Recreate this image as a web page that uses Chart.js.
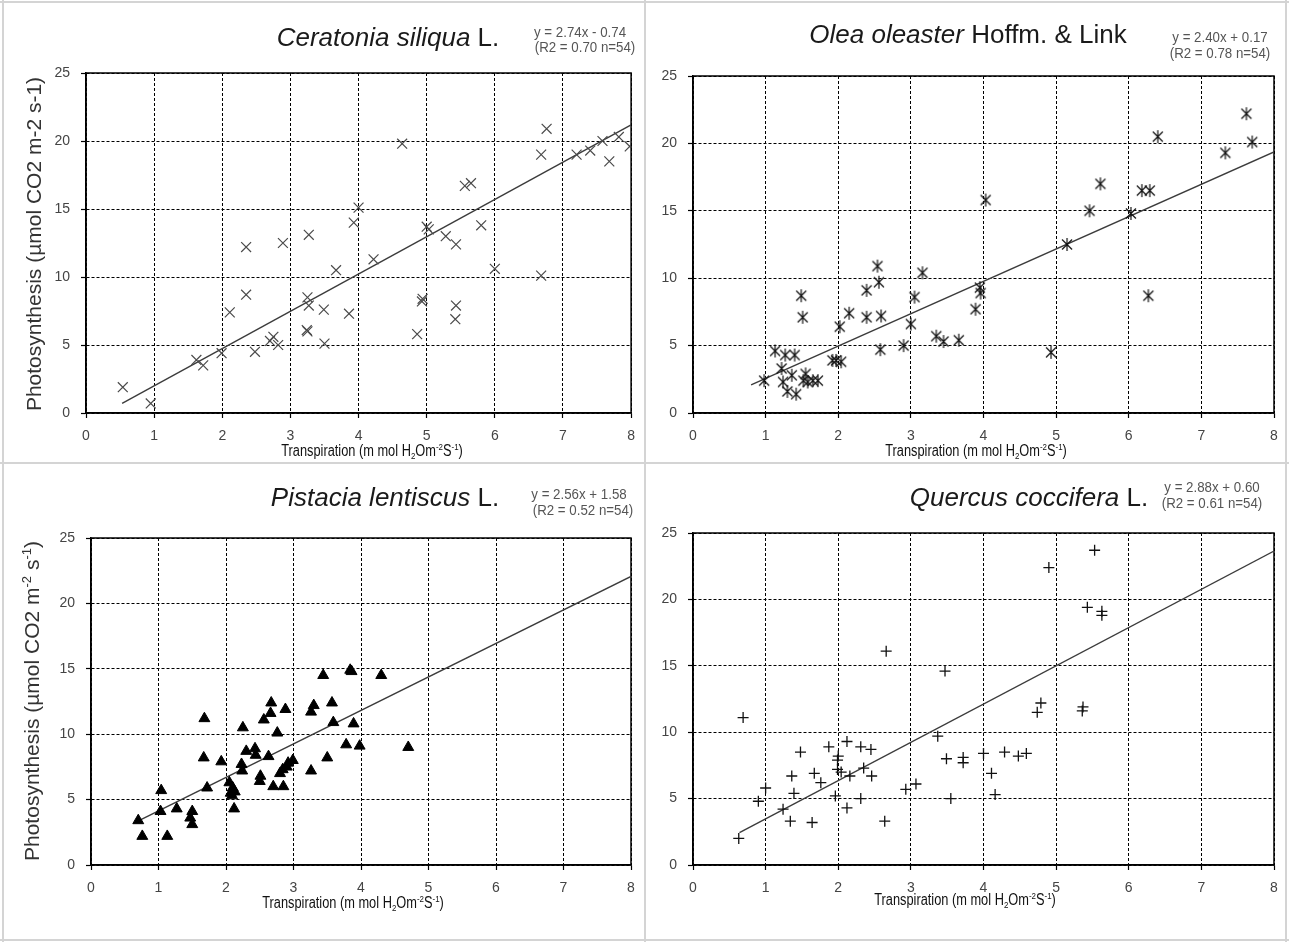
<!DOCTYPE html>
<html><head><meta charset="utf-8">
<script src="https://cdn.jsdelivr.net/npm/chart.js@4.4.1/dist/chart.umd.min.js"></script>
<style>
html,body{margin:0;padding:0;background:#fff;}
#fig{position:relative;width:1289px;height:942px;overflow:hidden;background:#fff;}
.panel{position:absolute;}
.panel canvas{display:block;}
.ln{position:absolute;background:#d4d4d4;}
</style></head><body>
<div id="fig">
  <div class="panel" style="left:0;top:0;width:645px;height:463px"><canvas id="c1" width="645" height="463"></canvas></div>
  <div class="panel" style="left:645px;top:0;width:644px;height:463px"><canvas id="c2" width="644" height="463"></canvas></div>
  <div class="panel" style="left:0;top:463px;width:645px;height:479px"><canvas id="c3" width="645" height="479"></canvas></div>
  <div class="panel" style="left:645px;top:463px;width:644px;height:479px"><canvas id="c4" width="644" height="479"></canvas></div>
  <div class="ln" style="left:644px;top:0;width:2px;height:942px"></div>
  <div class="ln" style="left:0;top:462px;width:1289px;height:2px"></div>
  <div class="ln" style="left:0;top:1px;width:1289px;height:2px"></div>
  <div class="ln" style="left:2px;top:0;width:2px;height:942px"></div>
  <div class="ln" style="left:1285px;top:0;width:2px;height:942px"></div>
  <div class="ln" style="left:0;top:939px;width:1289px;height:2px"></div>
</div>
<script>
// ---------------- DATA ----------------
const xTickValues = [0, 1, 2, 3, 4, 5, 6, 7, 8];
const yTickValues = [0, 5, 10, 15, 20, 25];

const ceratoniaX = [0.54,0.95,1.62,1.72,1.99,2.11,2.35,2.35,2.48,2.70,2.75,2.82,2.89,3.27,3.25,3.27,3.24,3.25,3.49,3.50,3.67,3.86,3.93,4.00,4.22,4.64,4.86,4.94,4.93,5.00,5.03,5.28,5.43,5.43,5.42,5.56,5.65,5.80,6.00,6.68,6.68,6.76,7.20,7.40,7.58,7.68,7.82,7.98];
const ceratoniaY = [1.9,0.7,3.9,3.5,4.4,7.4,12.2,8.7,4.5,5.3,5.6,5.0,12.5,13.1,8.5,7.9,6.1,6.0,7.6,5.1,10.5,7.3,14.0,15.1,11.3,19.8,5.8,8.4,8.2,13.7,13.5,13.0,12.4,7.9,6.9,16.7,16.9,13.8,10.6,10.1,19.0,20.9,19.0,19.3,20.0,18.5,20.3,19.6];
const ceratoniaTrendX = [0.53, 8];
const ceratoniaTrendY = [0.71, 21.18];

const oleaX = [0.98,1.13,1.22,1.24,1.27,1.40,1.30,1.36,1.42,1.55,1.52,1.58,1.65,1.72,1.49,1.51,1.92,1.97,2.04,2.02,2.15,2.39,2.39,2.54,2.56,2.59,2.58,2.90,3.00,3.05,3.16,3.35,3.45,3.66,3.89,3.95,3.96,4.03,4.93,5.15,5.46,5.61,6.03,6.18,6.29,6.27,6.40,7.33,7.62,7.70];
const oleaY = [2.4,4.6,3.3,2.3,4.3,4.3,1.6,2.8,1.4,2.9,2.4,2.3,2.4,2.4,8.7,7.1,3.9,3.9,3.8,6.4,7.4,9.1,7.1,10.9,9.7,7.2,4.7,5.0,6.6,8.6,10.4,5.7,5.3,5.4,7.7,9.3,8.9,15.8,4.5,12.5,15.0,17.0,14.8,16.5,16.5,8.7,20.5,19.3,22.2,20.1];
const oleaTrendX = [0.8, 8];
const oleaTrendY = [2.09, 19.37];

const pistaciaX = [0.70,0.76,1.04,1.03,1.13,1.27,1.50,1.47,1.50,1.68,1.67,1.72,1.93,2.05,2.07,2.10,2.09,2.13,2.12,2.25,2.23,2.24,2.30,2.43,2.44,2.51,2.50,2.56,2.66,2.67,2.63,2.70,2.76,2.80,2.85,2.88,2.84,2.90,2.92,2.99,3.26,3.26,3.30,3.44,3.50,3.57,3.59,3.78,3.84,3.86,3.89,3.98,4.30,4.70];
const pistaciaY = [3.4,2.2,5.7,4.1,2.2,4.3,4.1,3.6,3.1,11.2,8.2,5.9,7.9,6.3,5.5,5.9,5.3,5.6,4.3,10.5,7.7,7.2,8.7,8.9,8.4,6.8,6.4,11.1,11.6,12.4,8.3,6.0,10.1,7.0,6.0,11.9,7.3,7.5,7.8,8.0,7.2,11.7,12.2,14.5,8.2,12.4,10.9,9.2,14.9,14.8,10.8,9.1,14.5,9.0];
const pistaciaTrendX = [0.68, 8];
const pistaciaTrendY = [3.32, 22.06];

const quercusX = [0.63,0.69,0.90,1.00,1.24,1.34,1.36,1.39,1.48,1.64,1.67,1.76,1.87,1.96,1.99,2.00,1.99,2.04,2.12,2.12,2.16,2.31,2.35,2.31,2.45,2.46,2.66,2.64,2.93,3.07,3.37,3.47,3.49,3.55,3.72,3.72,4.00,4.11,4.16,4.29,4.48,4.59,4.74,4.79,4.90,5.36,5.37,5.43,5.53,5.63,5.63];
const quercusY = [2.0,11.1,4.8,5.8,4.2,3.3,6.7,5.4,8.5,3.2,6.9,6.2,8.9,5.2,7.9,8.2,7.2,7.0,9.3,4.3,6.7,8.9,7.3,5.0,8.7,6.7,16.1,3.3,5.7,6.1,9.7,14.6,8.0,5.0,8.1,7.7,8.4,6.9,5.3,8.5,8.2,8.4,11.5,12.2,22.4,11.6,11.9,19.4,23.7,19.1,18.8];
const quercusTrendX = [0.64, 8];
const quercusTrendY = [2.44, 23.64];

const speciesItalic = ['Ceratonia siliqua', 'Olea oleaster', 'Pistacia lentiscus', 'Quercus coccifera'];
const speciesAuthor = [' L.', ' Hoffm. & Link', ' L.', ' L.'];
const equationLines = ['y = 2.74x - 0.74', 'y = 2.40x + 0.17', 'y = 2.56x + 1.58', 'y = 2.88x + 0.60'];
const statsLines = ['(R2 = 0.70 n=54)', '(R2 = 0.78 n=54)', '(R2 = 0.52 n=54)', '(R2 = 0.61 n=54)'];

// ---------------- STYLE / LAYOUT ----------------
const SANS = '"Liberation Sans", Arial, Helvetica, sans-serif';

const zip = (xs, ys) => xs.map((x, i) => ({x, y: ys[i]}));

function asteriskMarker() {
  const c = document.createElement('canvas');
  c.width = 14; c.height = 15;
  const g = c.getContext('2d');
  g.strokeStyle = '#111'; g.lineWidth = 1.2;
  g.beginPath();
  g.moveTo(2, 2.5); g.lineTo(12, 12.5);
  g.moveTo(12, 2.5); g.lineTo(2, 12.5);
  g.moveTo(7, 1); g.lineTo(7, 14);
  g.stroke();
  return c;
}

// draws a run of text segments (normal / italic / sub / sup), optionally condensed horizontally
function drawRich(ctx, segs, x, y, size, family, color, align, hscale) {
  const h = hscale || 1;
  const fontOf = (k) => {
    const sz = (k === 'sub' || k === 'sup') ? size * 0.62 : size;
    return (k === 'i' ? 'italic ' : '') + sz + 'px ' + family;
  };
  let total = 0;
  const widths = segs.map(([t, k]) => { ctx.font = fontOf(k); const w = ctx.measureText(t).width; total += w; return w; });
  ctx.save();
  ctx.translate(x, y);
  ctx.scale(h, 1);
  let cx = align === 'center' ? -total / 2 : (align === 'right' ? -total : 0);
  ctx.fillStyle = color;
  ctx.textAlign = 'left';
  ctx.textBaseline = 'alphabetic';
  segs.forEach(([t, k], i) => {
    ctx.font = fontOf(k);
    let dy = size * 0.36;
    if (k === 'sub') dy += size * 0.22;
    if (k === 'sup') dy -= size * 0.38;
    ctx.fillText(t, cx, dy);
    cx += widths[i];
  });
  ctx.restore();
}

const xTitleSegs = [['Transpiration (m mol H', 'n'], ['2', 'sub'], ['Om', 'n'], ['-2', 'sup'], ['S', 'n'], ['-1', 'sup'], [')', 'n']];
const yTitleTop = [['Photosynthesis (\u00b5mol CO2 m-2 s-1)', 'n']];
const yTitleBottom = [['Photosynthesis (\u00b5mol CO2 m', 'n'], ['-2', 'sup'], [' s', 'n'], ['-1', 'sup'], [')', 'n']];

const panelLayouts = [
  {id:'c1', top:73, right:13, yW:86, xH:50, title:[388,37], eq:[580,32], st:[585,47], xt:[372,450], yt:[33,244], ySegs: yTitleTop},
  {id:'c2', top:76, right:15, yW:48, xH:50, title:[323,34], eq:[575,37], st:[575,53], xt:[331,450], yt:null},
  {id:'c3', top:75, right:14, yW:91, xH:77, title:[385,34], eq:[579,31], st:[583,47], xt:[353,439], yt:[31,238], ySegs: yTitleBottom},
  {id:'c4', top:70, right:15, yW:48, xH:77, title:[384,34], eq:[567,24], st:[567,40], xt:[320,436], yt:null}
];

const markerStyles = [
  {pointStyle:'crossRot', pointRadius:7, pointBorderColor:'#4a4a4a', pointBackgroundColor:'#4a4a4a', pointBorderWidth:1.2},
  {pointStyle: asteriskMarker(), pointRadius:7, pointBorderColor:'#111', pointBackgroundColor:'#111', pointBorderWidth:1},
  {pointStyle:'triangle', pointRadius:6.3, pointBorderColor:'#000', pointBackgroundColor:'#000', pointBorderWidth:1},
  {pointStyle:'cross', pointRadius:5.5, pointBorderColor:'#111', pointBackgroundColor:'#111', pointBorderWidth:1.3}
];

const pointSets = [zip(ceratoniaX, ceratoniaY), zip(oleaX, oleaY), zip(pistaciaX, pistaciaY), zip(quercusX, quercusY)];
const trendSets = [zip(ceratoniaTrendX, ceratoniaTrendY), zip(oleaTrendX, oleaTrendY), zip(pistaciaTrendX, pistaciaTrendY), zip(quercusTrendX, quercusTrendY)];

const framePlugin = {
  id: 'frameAndText',
  beforeDatasetsDraw(chart) {
    const a = chart.chartArea, ctx = chart.ctx;
    ctx.save();
    ctx.setLineDash([]);
    ctx.strokeStyle = '#000';
    ctx.lineWidth = 1.5;
    ctx.strokeRect(a.left, a.top, a.right - a.left, a.bottom - a.top);
    ctx.restore();
  },
  afterDraw(chart) {
    const i = chart.options.plugins.frameAndText.index;
    const L = panelLayouts[i];
    const ctx = chart.ctx;
    ctx.save();
    drawRich(ctx, [[speciesItalic[i], 'i'], [speciesAuthor[i], 'n']], L.title[0], L.title[1], 26, SANS, '#1a1a1a', 'center');
    drawRich(ctx, [[equationLines[i], 'n']], L.eq[0], L.eq[1], 14, SANS, '#555', 'center', 0.95);
    drawRich(ctx, [[statsLines[i], 'n']], L.st[0], L.st[1], 14, SANS, '#555', 'center', 0.95);
    drawRich(ctx, xTitleSegs, L.xt[0], L.xt[1], 16, SANS, '#111', 'center', 0.8);
    if (L.yt) {
      ctx.save();
      ctx.translate(L.yt[0], L.yt[1]);
      ctx.rotate(-Math.PI / 2);
      drawRich(ctx, L.ySegs, 0, 0, 21, SANS, '#333', 'center');
      ctx.restore();
    }
    ctx.restore();
  }
};

function axisCommon(vals, pad) {
  return {
    type: 'linear',
    min: vals[0], max: vals[vals.length - 1],
    afterBuildTicks: (s) => { s.ticks = vals.map(v => ({value: v})); },
    ticks: {color:'#444', font:{family: SANS, size: 14}, padding: pad, maxRotation: 0, autoSkip: false},
    grid: {color:'#000', lineWidth:1, tickLength:5, tickColor:'#000', tickWidth:1.2, tickBorderDash:[]},
    border: {display:true, color:'#000', width:1.5, dash:[3,2]}
  };
}

panelLayouts.forEach((L, i) => {
  const xs = axisCommon(xTickValues, 10);
  xs.afterFit = (s) => { s.height = L.xH; };
  const ys = axisCommon(yTickValues, 11);
  ys.afterFit = (s) => { s.width = L.yW; };
  new Chart(document.getElementById(L.id), {
    type: 'scatter',
    data: {
      datasets: [
        Object.assign({label:'points', data: pointSets[i], showLine:false}, markerStyles[i]),
        {type:'line', label:'trend', data: trendSets[i], borderColor:'#3c3c3c', borderWidth:1.4, pointRadius:0, fill:false, tension:0}
      ]
    },
    options: {
      responsive: false,
      animation: false,
      devicePixelRatio: 1,
      layout: {padding: {top: L.top, right: L.right, left: 0, bottom: 0}},
      plugins: {legend:{display:false}, tooltip:{enabled:false}, title:{display:false}, frameAndText:{index:i}},
      scales: {x: xs, y: ys}
    },
    plugins: [framePlugin]
  });
});
</script>
</body></html>
